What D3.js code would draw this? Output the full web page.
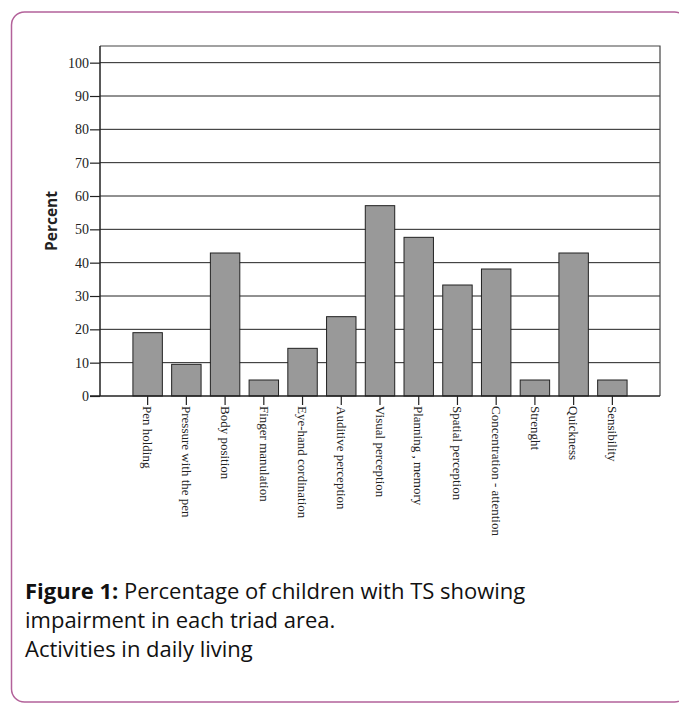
<!DOCTYPE html>
<html>
<head>
<meta charset="utf-8">
<script src="https://cdn.jsdelivr.net/npm/d3@7"></script>
<style>
  body { margin: 0; background: #fff; }
</style>
</head>
<body>
<svg id="vis"></svg>
<script>
//DATOS-------------------------------------------------------------------------------------------
const categorias = [
  "Pen holding",
  "Pressure with the pen",
  "Body position",
  "Finger manulation",
  "Eye-hand cordination",
  "Auditive perception",
  "Visual perception",
  "Planning , memory",
  "Spatial perception",
  "Concentration - attention",
  "Strenght",
  "Quickness",
  "Sensibility",
];
const porcentajes = [19.0, 9.5, 42.9, 4.8, 14.3, 23.8, 57.1, 47.6, 33.3, 38.1, 4.8, 42.9, 4.8];
const ticksY = [0, 10, 20, 30, 40, 50, 60, 70, 80, 90, 100];
const tituloY = "Percent";
const leyenda = [
  ["Figure 1:", " Percentage of children with TS showing"],
  ["", "impairment in each triad area."],
  ["", "Activities in daily living"],
];

//CONSTANTES--------------------------------------------------------------------------------------
const WIDTH = 679;
const HEIGHT = 704;
const MARGIN = { top: 46, bottom: 308, left: 100, right: 19 };
const HEIGHTVIS = HEIGHT - MARGIN.top - MARGIN.bottom;
const WIDTHVIS = WIDTH - MARGIN.left - MARGIN.right;
const LINEA = "#222";

const svg = d3.select("#vis").attr("width", WIDTH).attr("height", HEIGHT);

// marco rosado con esquinas redondeadas
svg
  .append("rect")
  .attr("x", 11.5)
  .attr("y", 12)
  .attr("width", 676)
  .attr("height", 690)
  .attr("rx", 13)
  .attr("fill", "none")
  .attr("stroke", "#b3629a")
  .attr("stroke-width", 1.5);

const contenedor = svg
  .append("g")
  .attr("transform", `translate(${MARGIN.left} ${MARGIN.top})`);

//ESCALAS-----------------------------------------------------------------------------------------
const escalaY = d3.scaleLinear().domain([0, 105]).range([HEIGHTVIS, 0]);
const escalaX = d3
  .scaleBand()
  .domain(categorias)
  .range([0, WIDTHVIS])
  .paddingInner(0.24)
  .paddingOuter(0.85);

//GRILLA------------------------------------------------------------------------------------------
contenedor
  .selectAll(".grilla")
  .data(ticksY.filter((d) => d > 0))
  .join("line")
  .attr("class", "grilla")
  .attr("x1", 0)
  .attr("x2", WIDTHVIS)
  .attr("y1", (d) => escalaY(d))
  .attr("y2", (d) => escalaY(d))
  .attr("stroke", LINEA)
  .attr("stroke-width", 1);

// borde superior y derecho
contenedor
  .append("path")
  .attr("d", `M0,0H${WIDTHVIS}V${HEIGHTVIS}`)
  .attr("fill", "none")
  .attr("stroke", "#444")
  .attr("stroke-width", 1.2);

//BARRAS------------------------------------------------------------------------------------------
const datos = categorias.map((c, i) => ({ cat: c, val: porcentajes[i] }));
contenedor
  .selectAll(".barra")
  .data(datos)
  .join("rect")
  .attr("class", "barra")
  .attr("x", (d) => escalaX(d.cat))
  .attr("y", (d) => escalaY(d.val))
  .attr("width", escalaX.bandwidth())
  .attr("height", (d) => HEIGHTVIS - escalaY(d.val))
  .attr("fill", "#999999")
  .attr("stroke", LINEA)
  .attr("stroke-width", 1);

//EJE Y-------------------------------------------------------------------------------------------
const ejeY = contenedor
  .append("g")
  .call(d3.axisLeft(escalaY).tickValues(ticksY).tickSize(10).tickPadding(1).tickFormat(d3.format("d")));
ejeY.select(".domain").attr("d", `M0,${HEIGHTVIS}V0`).attr("stroke", LINEA).attr("stroke-width", 1.5);
ejeY.selectAll(".tick line").attr("stroke", LINEA).attr("stroke-width", 1.2);
ejeY
  .selectAll(".tick text")
  .attr("fill", "#222")
  .style("font-family", "'Liberation Serif', 'DejaVu Serif', serif")
  .style("font-size", "14px");

//EJE X-------------------------------------------------------------------------------------------
const ejeX = contenedor
  .append("g")
  .attr("transform", `translate(0 ${HEIGHTVIS})`)
  .call(d3.axisBottom(escalaX).tickSize(9).tickPadding(2));
ejeX.select(".domain").attr("d", `M-10,0H${WIDTHVIS}`).attr("stroke", LINEA).attr("stroke-width", 1.5);
ejeX.selectAll(".tick line").attr("stroke", LINEA).attr("stroke-width", 1.2);
ejeX
  .selectAll(".tick text")
  .attr("transform", "rotate(90)")
  .attr("x", 10)
  .attr("y", 0)
  .attr("dy", "0.33em")
  .attr("text-anchor", "start")
  .attr("fill", "#222")
  .style("font-family", "'Liberation Serif', 'DejaVu Serif', serif")
  .style("font-size", "13px");

//TITULO EJE Y------------------------------------------------------------------------------------
svg
  .append("text")
  .attr("transform", `translate(57 ${MARGIN.top + escalaY(52.5)}) rotate(-90)`)
  .attr("text-anchor", "middle")
  .style("font-family", "'Open Sans', sans-serif")
  .style("font-weight", "bold")
  .style("font-size", "15.5px")
  .attr("fill", "#222")
  .text(tituloY);

//LEYENDA DE LA FIGURA----------------------------------------------------------------------------
const caption = svg
  .append("text")
  .attr("x", 25)
  .attr("y", 599)
  .style("font-family", "'Open Sans', sans-serif")
  .style("font-size", "22px")
  .attr("fill", "#111");
leyenda.forEach((linea, i) => {
  const t = caption.append("tspan").attr("x", 25).attr("y", 599 + i * 29);
  if (linea[0]) t.append("tspan").style("font-weight", "bold").text(linea[0]);
  t.append("tspan").text(linea[1]);
});
</script>
</body>
</html>
